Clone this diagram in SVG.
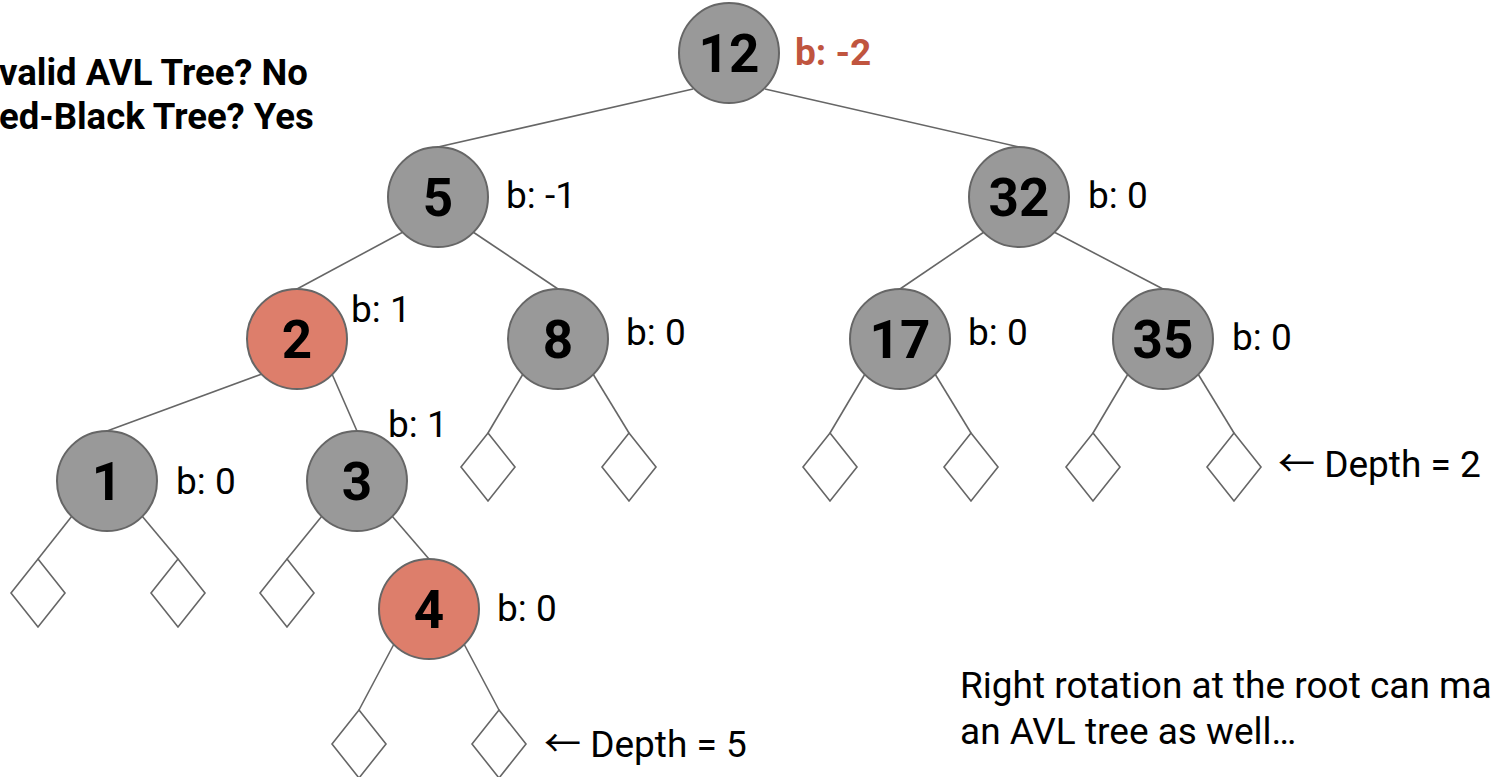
<svg xmlns="http://www.w3.org/2000/svg" width="1493" height="777" viewBox="0 0 1493 777">
  <style>
    .edge { stroke: #666666; stroke-width: 1.6; fill: none; }
    .node { stroke: #666666; stroke-width: 2; }
    .black { fill: #999999; }
    .red { fill: #dd7e6b; }
    .leaf { fill: #ffffff; stroke: #666666; stroke-width: 1.6; }
    .key { font-family: Roboto, "Liberation Sans", sans-serif; font-weight: bold; font-size: 53px; fill: #000000; text-anchor: middle; }
    .bal { font-family: Roboto, "Liberation Sans", sans-serif; font-size: 37px; fill: #000000; }
    .warn { font-weight: bold; fill: #c0553f; }
    .arrow { font-family: "Noto Sans CJK SC", "DejaVu Sans", sans-serif; }
    .note { font-family: Roboto, "Liberation Sans", sans-serif; font-size: 37px; fill: #000000; }
    .title { font-family: Roboto, "Liberation Sans", sans-serif; font-weight: bold; font-size: 36.5px; fill: #000000; }
  </style>
  <defs>
    <polygon id="nil" class="leaf" points="0,-34 27,0 0,34 -27,0"/>
  </defs>
  <rect width="1493" height="777" fill="#ffffff"/>

  <g id="question">
    <text class="title" x="-1" y="85">valid AVL Tree? No</text>
    <text class="title" x="-1" y="129">ed-Black Tree? Yes</text>
  </g>

  <!-- edges run from a parent's lower-left / lower-right rim to the child's top -->
  <g id="connectors">
    <line class="edge" x1="693" y1="89" x2="438" y2="147"/>
    <line class="edge" x1="765" y1="89" x2="1019" y2="147"/>
    <line class="edge" x1="403" y1="232" x2="297" y2="289"/>
    <line class="edge" x1="473" y1="232" x2="558" y2="289"/>
    <line class="edge" x1="984" y1="232" x2="900" y2="289"/>
    <line class="edge" x1="1054" y1="232" x2="1163" y2="289"/>
    <line class="edge" x1="262" y1="374" x2="107" y2="431"/>
    <line class="edge" x1="332" y1="374" x2="357" y2="431"/>
    <line class="edge" x1="392" y1="516" x2="429" y2="559"/>
    <line class="edge" x1="523" y1="374" x2="488" y2="433"/>
    <line class="edge" x1="593" y1="374" x2="629" y2="433"/>
    <line class="edge" x1="865" y1="374" x2="830" y2="433"/>
    <line class="edge" x1="935" y1="374" x2="971" y2="433"/>
    <line class="edge" x1="1128" y1="374" x2="1093" y2="433"/>
    <line class="edge" x1="1198" y1="374" x2="1234" y2="433"/>
    <line class="edge" x1="72" y1="516" x2="38" y2="559"/>
    <line class="edge" x1="142" y1="516" x2="178" y2="559"/>
    <line class="edge" x1="322" y1="516" x2="287" y2="559"/>
    <line class="edge" x1="394" y1="644" x2="359" y2="710"/>
    <line class="edge" x1="464" y1="644" x2="499" y2="710"/>
  </g>

  <g id="node-12">
    <circle class="node black" cx="729" cy="53" r="50"/>
    <text class="key" x="729" y="72">12</text>
    <text class="bal warn" x="795" y="65">b: -2</text>
  </g>
  <g id="node-5">
    <circle class="node black" cx="438" cy="197" r="50"/>
    <text class="key" x="438" y="216">5</text>
    <text class="bal" x="506" y="208">b: -1</text>
  </g>
  <g id="node-32">
    <circle class="node black" cx="1019" cy="197" r="50"/>
    <text class="key" x="1019" y="216">32</text>
    <text class="bal" x="1088" y="208">b: 0</text>
  </g>
  <g id="node-2">
    <circle class="node red" cx="297" cy="339" r="50"/>
    <text class="key" x="297" y="358">2</text>
    <text class="bal" x="351" y="322">b: 1</text>
  </g>
  <g id="node-8">
    <circle class="node black" cx="558" cy="339" r="50"/>
    <text class="key" x="558" y="358">8</text>
    <text class="bal" x="626" y="345">b: 0</text>
  </g>
  <g id="node-17">
    <circle class="node black" cx="900" cy="339" r="50"/>
    <text class="key" x="900" y="358">17</text>
    <text class="bal" x="968" y="345">b: 0</text>
  </g>
  <g id="node-35">
    <circle class="node black" cx="1163" cy="339" r="50"/>
    <text class="key" x="1163" y="358">35</text>
    <text class="bal" x="1232" y="350">b: 0</text>
  </g>
  <g id="node-1">
    <circle class="node black" cx="107" cy="481" r="50"/>
    <text class="key" x="107" y="500">1</text>
    <text class="bal" x="176" y="494">b: 0</text>
  </g>
  <g id="node-3">
    <circle class="node black" cx="357" cy="481" r="50"/>
    <text class="key" x="357" y="500">3</text>
    <text class="bal" x="388" y="437">b: 1</text>
  </g>
  <g id="node-4">
    <circle class="node red" cx="429" cy="609" r="50"/>
    <text class="key" x="429" y="628">4</text>
    <text class="bal" x="497" y="621">b: 0</text>
  </g>

  <g id="nil-leaves">
    <use href="#nil" x="488" y="467"/>
    <use href="#nil" x="629" y="467"/>
    <use href="#nil" x="830" y="467"/>
    <use href="#nil" x="971" y="467"/>
    <use href="#nil" x="1093" y="467"/>
    <use href="#nil" x="1234" y="467"/>
    <use href="#nil" x="38" y="593"/>
    <use href="#nil" x="178" y="593"/>
    <use href="#nil" x="287" y="593"/>
    <use href="#nil" x="359" y="744"/>
    <use href="#nil" x="499" y="744"/>
  </g>

  <g id="depth-labels">
    <text class="bal" x="1278" y="477"><tspan class="arrow">←</tspan> Depth = 2</text>
    <text class="bal" x="544" y="757"><tspan class="arrow">←</tspan> Depth = 5</text>
  </g>

  <g id="rotation-note">
    <text class="note" x="960" y="698">Right rotation at the root can ma</text>
    <text class="note" x="960" y="744">an AVL tree as well…</text>
  </g>
</svg>
